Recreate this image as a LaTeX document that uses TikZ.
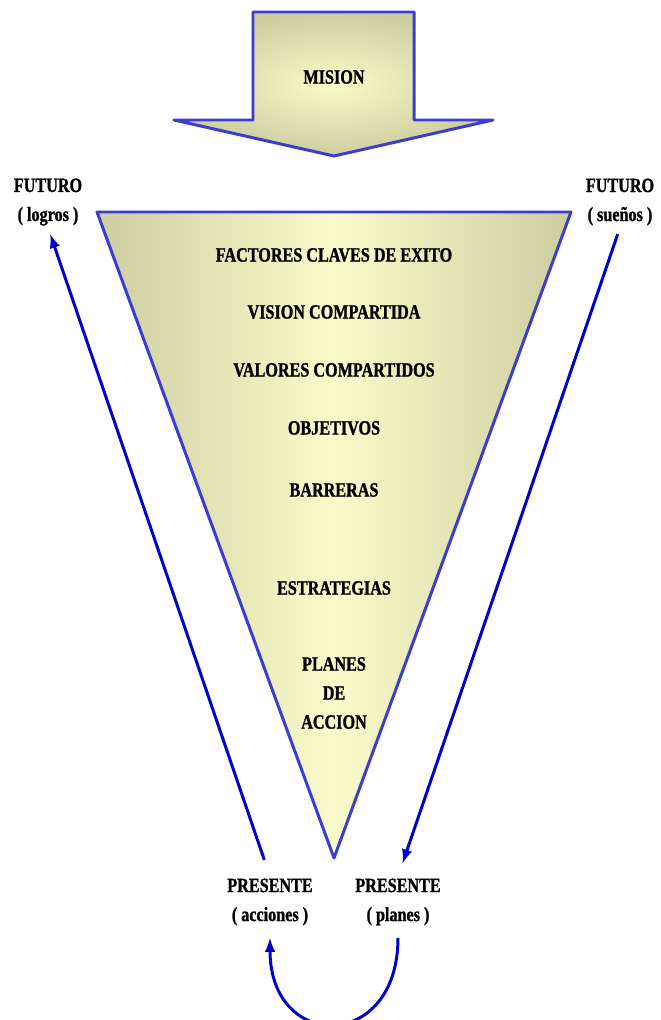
\documentclass[tikz,border=0pt]{standalone}
\usepackage{fontspec}
\setmainfont{Liberation Serif}[FakeStretch=0.8,BoldFeatures={FakeBold=1.2}]
\definecolor{edgeblue}{RGB}{60,60,210}
\definecolor{flowblue}{RGB}{0,0,200}
\definecolor{khaki}{RGB}{205,206,160}
\definecolor{cream}{RGB}{250,251,202}
\begin{document}
\begin{tikzpicture}[x=0.02cm,y=-0.02cm,line join=round,>=latex,
  lbl/.style={font=\bfseries\fontsize{11.5}{16.5}\selectfont,align=center,inner sep=1pt},
  flow/.style={color=flowblue,line width=1.7pt}]
\useasboundingbox (0,0) rectangle (660,1020);

% arrow of the mission
\shade[inner color=cream,outer color=khaki](253,12)--(414,12)--(414,120)--(493,120)--(334,156)--(174,120)--(253,120)--cycle;
\draw[color=edgeblue,line width=1.7pt](253,12)--(414,12)--(414,120)--(493,120)--(334,156)--(174,120)--(253,120)--cycle;

% funnel
\shade[left color=khaki,right color=khaki,middle color=cream](97,212)--(571,212)--(334,858)--cycle;
\draw[color=edgeblue,line width=1.7pt](97,212)--(571,212)--(334,858)--cycle;

    \node[lbl] (mision) at (334,77) {MISION};
    \node[lbl] (fce) at (334,255) {FACTORES CLAVES DE EXITO};
    \node[lbl] (vis) at (334,312) {VISION COMPARTIDA};
    \node[lbl] (val) at (334,370) {VALORES COMPARTIDOS};
    \node[lbl] (obj) at (334,428) {OBJETIVOS};
    \node[lbl] (bar) at (334,490) {BARRERAS};
    \node[lbl] (est) at (334,588) {ESTRATEGIAS};
    \node[lbl] (pla) at (334,693) {PLANES\\DE\\ACCION};

    \node[lbl] (futl) at (48,202) {FUTURO\\( logros )};
    \node[lbl] (futr) at (620,202) {FUTURO\\( sueños )};
    \node[lbl] (presa) at (270,902) {PRESENTE\\( acciones )};
    \node[lbl] (presp) at (398,902) {PRESENTE\\( planes )};

\draw[flow,->,shorten <=10pt,shorten >=4pt](presa.north)--(futl.south);
\draw[flow,->,shorten <=4pt,shorten >=8pt](futr.south)--(presp.north);
\draw[flow,->,shorten <=6pt,shorten >=6pt](presp.south) to[out=-90,in=-90,looseness=2.5] (presa.south);
  \end{tikzpicture}
\end{document}
